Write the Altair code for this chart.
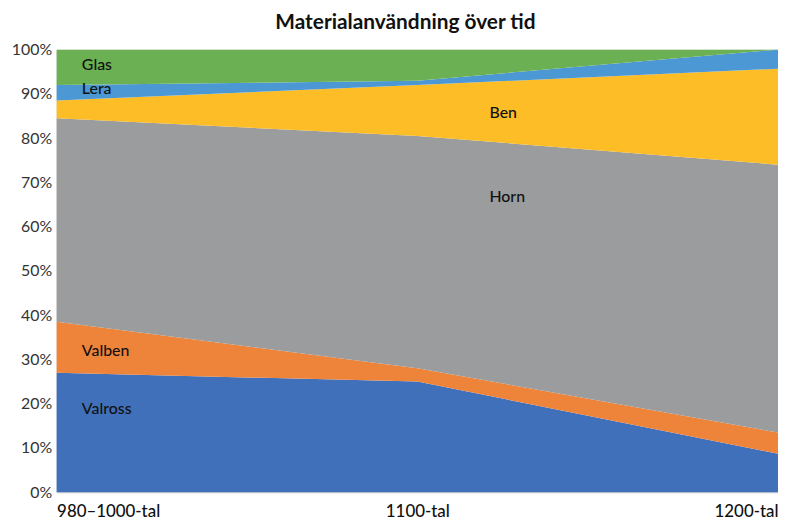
import json
import altair as alt
import pandas as pd

periods = ["980–1000-tal", "1100-tal", "1200-tal"]
materials = ["Valross", "Valben", "Horn", "Ben", "Lera", "Glas"]
values = {
    "Valross": [27.0, 25.0, 8.7],
    "Valben": [11.5, 3.0, 4.8],
    "Horn": [46.0, 52.5, 60.5],
    "Ben": [4.0, 11.5, 21.7],
    "Lera": [3.5, 1.0, 4.3],
    "Glas": [8.0, 7.0, 0.0],
}
colors = ["#4070BA", "#EE833A", "#9B9C9D", "#FDBD27", "#4C98D4", "#6BB053"]

# label placement (x in period index units, y in percent)
label_names = ["Glas", "Lera", "Ben", "Horn", "Valben", "Valross"]
label_x = [0.07, 0.07, 1.2, 1.2, 0.07, 0.07]
label_y = [96.6, 91.0, 85.6, 66.6, 32.0, 18.8]

rows = []
for mi, m in enumerate(materials):
    for pi, p in enumerate(periods):
        rows.append({"idx": pi, "period": p, "material": m, "order": mi, "value": values[m][pi]})
df = pd.DataFrame(rows)
lab = pd.DataFrame({"name": label_names, "x": label_x, "y": label_y})

font = "Lato"
label_expr = json.dumps(periods) + "[datum.value]"

x_enc = alt.X(
    "idx:Q",
    scale=alt.Scale(domain=[0, len(periods) - 1], nice=False),
    axis=alt.Axis(
        title=None, values=list(range(len(periods))), labelExpr=label_expr,
        labelFlush=True, grid=False, ticks=False, domain=True, domainColor="#d4d4d4",
        labelFontSize=17, labelColor="#111111", labelPadding=11, labelFont=font,
        labelFontWeight=500,
    ),
)
y_scale = alt.Scale(domain=[0, 100], nice=False)

area = alt.Chart(df).mark_area(opacity=1).encode(
    x=x_enc,
    y=alt.Y(
        "value:Q", stack="zero", scale=y_scale,
        axis=alt.Axis(
            title=None, values=list(range(0, 101, 10)), labelExpr="datum.value + '%'",
            grid=False, ticks=False, domain=False, labelFontSize=16, labelColor="#333333",
            labelPadding=5, labelFont=font,
        ),
    ),
    color=alt.Color("material:N", scale=alt.Scale(domain=materials, range=colors), legend=None),
    order=alt.Order("order:Q"),
)

texts = alt.Chart(lab).mark_text(
    align="left", baseline="middle", fontSize=16, font=font, fontWeight=500, color="#111111"
).encode(
    x=alt.X("x:Q", scale=alt.Scale(domain=[0, len(periods) - 1], nice=False)),
    y=alt.Y("y:Q", scale=y_scale),
    text="name:N",
)

chart = (
    alt.layer(area, texts)
    .properties(
        width=727, height=446,
        title=alt.TitleParams(
            "Materialanvändning över tid", fontSize=21, font=font, fontWeight="bold",
            color="#111111", anchor="middle", offset=9, dx=-12,
        ),
        autosize=alt.AutoSizeParams(type="none"),
        padding={"left": 49, "top": 40, "right": 0, "bottom": 26},
    )
    .configure_view(stroke=None)
    .configure(background="white")
)

chart.save("out.html", embed_options={"renderer": "svg", "actions": False})
